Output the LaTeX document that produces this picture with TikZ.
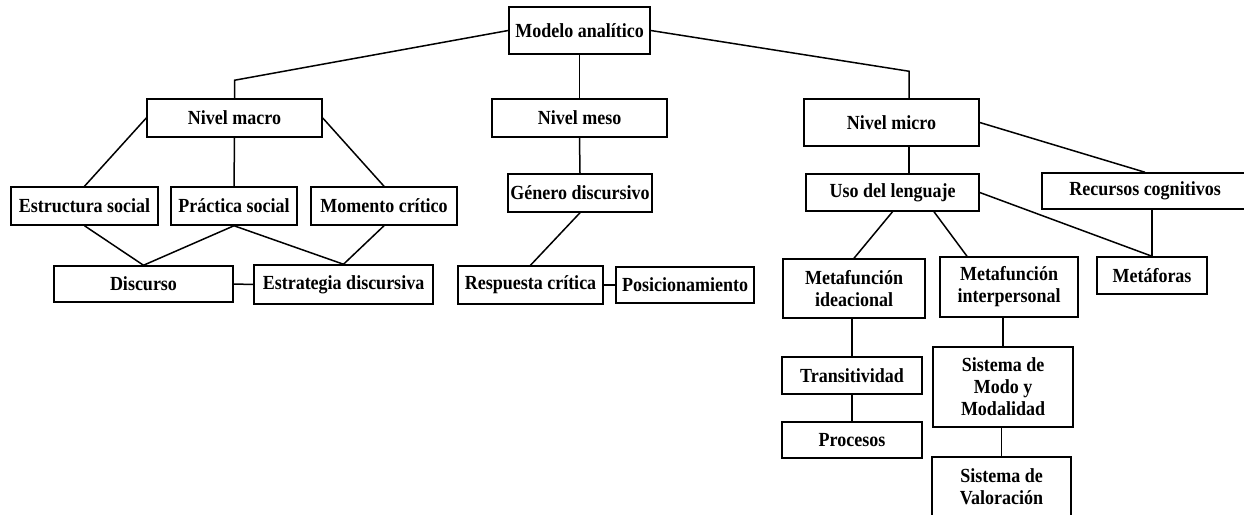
\documentclass[tikz,border=0pt]{standalone}
\usepackage{fontspec}
\setmainfont{Liberation Serif}[FakeStretch=0.9]

\begin{document}
\begin{tikzpicture}[x=1pt, y=-1pt, line width=1.5pt,
  box/.style={draw, fill=white, font=\fontsize{20}{22}\selectfont\bfseries, align=center, inner sep=0pt}]
\useasboundingbox (0, 0) rectangle (1244, 514);
\node [box, minimum width=141pt, minimum height=47pt] (modelo) at (579.5, 30.5) {Modelo analítico};
\node [box, minimum width=175pt, minimum height=38pt] (macro) at (234.5, 118) {Nivel macro};
\node [box, minimum width=175pt, minimum height=38pt] (meso) at (579.5, 118) {Nivel meso};
\node [box, minimum width=175pt, minimum height=47pt] (micro) at (891.5, 122.5) {Nivel micro};
\node [box, minimum width=147pt, minimum height=38pt] (estructura) at (84.5, 206) {Estructura social};
\node [box, minimum width=126pt, minimum height=38pt] (practica) at (234, 206) {Práctica social};
\node [box, minimum width=146pt, minimum height=38pt] (momento) at (384, 206) {Momento crítico};
\node [box, minimum width=179pt, minimum height=36pt] (discurso) at (143.5, 284) {Discurso};
\node [box, minimum width=179pt, minimum height=39pt] (estrategia) at (343.5, 284.5) {Estrategia discursiva};
\node [box, minimum width=144pt, minimum height=38pt] (genero) at (580, 193) {Género discursivo};
\node [box, minimum width=145pt, minimum height=38pt] (respuesta) at (530.5, 285) {Respuesta crítica};
\node [box, minimum width=138pt, minimum height=36pt] (posicion) at (685, 285) {Posicionamiento};
\node [box, minimum width=173pt, minimum height=37pt] (uso) at (892.5, 192.5) {Uso del lenguaje};
\node [box, minimum width=206pt, minimum height=36pt] (recursos) at (1145, 191) {Recursos cognitivos};
\node [box, minimum width=110pt, minimum height=37pt] (metaforas) at (1152, 275.5) {Metáforas};
\node [box, minimum width=142pt, minimum height=59pt] (ideacional) at (854, 288.5) {Metafunción\\ideacional};
\node [box, minimum width=138pt, minimum height=60pt] (interpersonal) at (1009, 287) {Metafunción\\interpersonal};
\node [box, minimum width=140pt, minimum height=37pt] (transitividad) at (852, 375.5) {Transitividad};
\node [box, minimum width=140pt, minimum height=36pt] (procesos) at (852, 440) {Procesos};
\node [box, minimum width=140pt, minimum height=80pt] (modo) at (1003, 387) {Sistema de\\Modo y\\Modalidad};
\node [box, minimum width=139pt, minimum height=60pt] (valoracion) at (1001.5, 487) {Sistema de\\Valoración};
\draw (modelo.west) -- ([yshift=18pt]macro.north) -- (macro.north);
\draw (modelo.south) -- (meso.north);
\draw (modelo.east) -- ([xshift=17.5pt, yshift=27pt]micro.north) -- ([xshift=17.5pt]micro.north);
\draw (macro.west) -- (estructura.north);
\draw (macro.south) -- (practica.north);
\draw (macro.east) -- (momento.north);
\draw (estructura.south) -- (discurso.north);
\draw (practica.south) -- (discurso.north);
\draw (practica.south) -- (estrategia.north);
\draw (momento.south) -- (estrategia.north);
\draw (discurso.east) -- (estrategia.west);
\draw (meso.south) -- (genero.north);
\draw (genero.south) -- (respuesta.north);
\draw (respuesta.east) -- (posicion.west);
\draw ([xshift=17.5pt]micro.south) -- ([xshift=17.5pt]micro.south |- uso.north);
\draw (micro.east) -- (recursos.north);
\draw (uso.east) -- (metaforas.north);
\draw (recursos.south -| metaforas.north) -- (metaforas.north);
\draw (uso.south) -- (ideacional.north);
\draw ([xshift=41.5pt]uso.south) -- ([xshift=-42pt]interpersonal.north);
\draw (transitividad.north |- ideacional.south) -- (transitividad.north);
\draw (transitividad.south) -- (procesos.north);
\draw (modo.north |- interpersonal.south) -- (modo.north);
\draw (valoracion.north |- modo.south) -- (valoracion.north);
\end{tikzpicture}
\end{document}
